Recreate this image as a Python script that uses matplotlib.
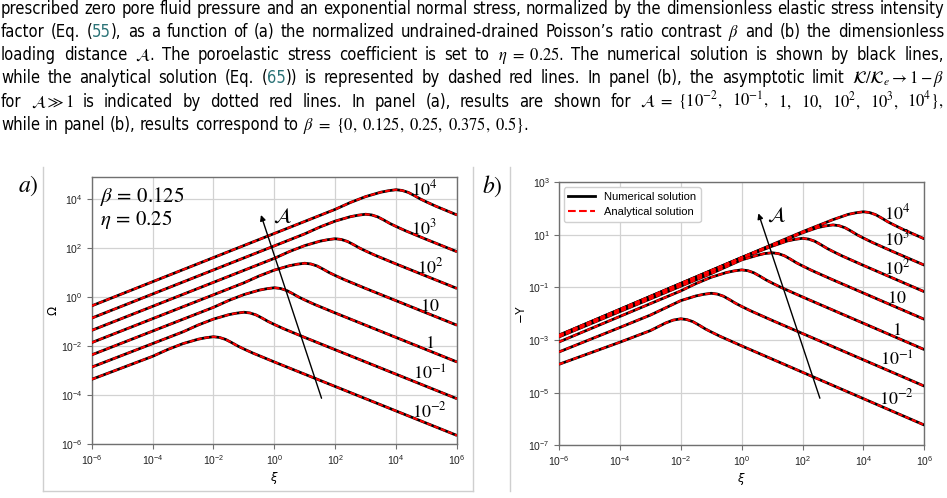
import numpy as np
import matplotlib
matplotlib.use('Agg')
import matplotlib.pyplot as plt
from matplotlib import font_manager
from matplotlib.lines import Line2D
from matplotlib.ticker import NullLocator

# ---------------------------------------------------------------- data
# curve labels (dimensionless loading distance A)
A_LABELS = [r'$10^{-2}$', r'$10^{-1}$', r'$1$', r'$10$', r'$10^{2}$', r'$10^{3}$', r'$10^{4}$']

# panel (a): log10(xi) and log10(Omega), one pair per A
a_xi_m2 = [-6, -4, -3.5, -3, -2.5, -2.25, -2, -1.8, -1.6, -1.4, -1.2, -1, -0.7, 0, 6]
a_om_m2 = [-3.35, -2.41, -2.13, -1.89, -1.71, -1.65, -1.61, -1.64, -1.72, -1.85, -1.99, -2.11, -2.28, -2.64, -5.64]
a_xi_m1 = [-6, -3, -2.5, -2, -1.5, -1.25, -1, -0.8, -0.6, -0.4, -0.2, 0, 0.3, 1, 6]
a_om_m1 = [-2.85, -1.41, -1.13, -0.89, -0.71, -0.65, -0.61, -0.64, -0.72, -0.85, -0.99, -1.11, -1.28, -1.64, -4.14]
a_xi_0 = [-6, -2, -1.5, -1, -0.5, -0.25, 0, 0.2, 0.4, 0.6, 0.8, 1, 1.3, 2, 6]
a_om_0 = [-2.35, -0.41, -0.13, 0.11, 0.29, 0.35, 0.39, 0.36, 0.28, 0.15, 0.01, -0.11, -0.28, -0.64, -2.64]
a_xi_1 = [-6, -1, -0.5, 0, 0.5, 0.75, 1, 1.2, 1.4, 1.6, 1.8, 2, 2.3, 3, 6]
a_om_1 = [-1.85, 0.59, 0.87, 1.11, 1.29, 1.35, 1.39, 1.36, 1.28, 1.15, 1.01, 0.89, 0.72, 0.36, -1.14]
a_xi_2 = [-6, 0, 0.5, 1, 1.5, 1.75, 2, 2.2, 2.4, 2.6, 2.8, 3, 3.3, 4, 6]
a_om_2 = [-1.35, 1.59, 1.87, 2.11, 2.29, 2.35, 2.39, 2.36, 2.28, 2.15, 2.01, 1.89, 1.72, 1.36, 0.36]
a_xi_3 = [-6, 1, 1.5, 2, 2.5, 2.75, 3, 3.2, 3.4, 3.6, 3.8, 4, 4.3, 5, 6]
a_om_3 = [-0.85, 2.59, 2.87, 3.11, 3.29, 3.35, 3.39, 3.36, 3.28, 3.15, 3.01, 2.89, 2.72, 2.36, 1.86]
a_xi_4 = [-6, 2, 2.5, 3, 3.5, 3.75, 4, 4.2, 4.4, 4.6, 4.8, 5, 5.3, 6]
a_om_4 = [-0.35, 3.59, 3.87, 4.11, 4.29, 4.35, 4.39, 4.36, 4.28, 4.15, 4.01, 3.89, 3.72, 3.36]

# panel (b): log10(xi) and log10(-Y), one pair per A
b_xi_m2 = [-6, -4, -3, -2.5, -2.25, -2, -1.8, -1.6, -1.4, -1.2, -1, -0.7, 0, 6]
b_y_m2 = [-3.92, -3.08, -2.64, -2.35, -2.24, -2.19, -2.22, -2.30, -2.43, -2.57, -2.69, -2.86, -3.22, -6.23]
b_xi_m1 = [-6, -4, -3, -2, -1.5, -1.25, -1, -0.8, -0.6, -0.4, -0.2, 0, 0.3, 1, 6]
b_y_m1 = [-3.45, -2.52, -2.05, -1.50, -1.32, -1.26, -1.22, -1.25, -1.33, -1.46, -1.60, -1.72, -1.89, -2.25, -4.75]
b_xi_0 = [-6, -4, -2, -1.5, -1, -0.5, -0.25, 0, 0.2, 0.4, 0.6, 0.8, 1, 1.3, 2, 6]
b_y_0 = [-3.07, -2.10, -1.13, -0.85, -0.61, -0.43, -0.37, -0.33, -0.36, -0.44, -0.57, -0.71, -0.83, -1.00, -1.36, -3.36]
b_xi_1 = [-6, -2, -1, 0, 0.5, 0.75, 1, 1.2, 1.4, 1.6, 1.8, 2, 2.3, 3, 6]
b_y_1 = [-2.88, -0.95, -0.47, 0.05, 0.22, 0.29, 0.32, 0.29, 0.21, 0.08, -0.06, -0.18, -0.35, -0.71, -2.21]
b_xi_2 = [-6, -2, 0, 1, 1.5, 1.75, 2, 2.2, 2.4, 2.6, 2.8, 3, 3.3, 4, 6]
b_y_2 = [-2.84, -0.90, 0.12, 0.57, 0.77, 0.83, 0.87, 0.84, 0.76, 0.63, 0.49, 0.37, 0.20, -0.16, -1.16]
b_xi_3 = [-6, 0, 2, 2.5, 2.75, 3, 3.2, 3.4, 3.6, 3.8, 4, 4.3, 5, 6]
b_y_3 = [-2.82, 0.14, 1.08, 1.28, 1.34, 1.38, 1.35, 1.27, 1.14, 1.00, 0.88, 0.71, 0.35, -0.15]
b_xi_4 = [-6, 0, 2, 3, 3.5, 3.75, 4, 4.2, 4.4, 4.6, 4.8, 5, 5.3, 6]
b_y_4 = [-2.81, 0.14, 1.12, 1.58, 1.78, 1.84, 1.88, 1.85, 1.77, 1.64, 1.50, 1.38, 1.21, 0.85]

XI_TICK_EXP = [-6, -4, -2, 0, 2, 4, 6]
A_YTICK_EXP = [-6, -4, -2, 0, 2, 4]
B_YTICK_EXP = [-7, -5, -3, -1, 1, 3]

CAPTION = [
    "prescribed zero pore fluid pressure and an exponential normal stress, normalized by the dimensionless elastic stress intensity".split(),
    ["factor", "(Eq.", [("(", 'k'), ("55", 'T'), ("),", 'k')], "as", "a", "function", "of", "(a)", "the", "normalized",
     "undrained-drained", "Poisson\u2019s", "ratio", "contrast", r"$\beta$", "and", "(b)", "the", "dimensionless"],
    ["loading", "distance", r"$\mathcal{A}$.", "The", "poroelastic", "stress", "coefficient", "is", "set", "to",
     r"$\eta\ =\ 0.25$.", "The", "numerical", "solution", "is", "shown", "by", "black", "lines,"],
    ["while", "the", "analytical", "solution", "(Eq.", [("(", 'k'), ("65", 'T'), ("))", 'k')], "is", "represented", "by",
     "dashed", "red", "lines.", "In", "panel", "(b),", "the", "asymptotic", "limit",
     r"$\mathcal{K}/\mathcal{K}_e \rightarrow 1 - \beta$"],
    ["for", r"$\mathcal{A} \gg 1$", "is", "indicated", "by", "dotted", "red", "lines.", "In", "panel", "(a),", "results",
     "are", "shown", "for", r"$\mathcal{A}\ =\ \{10^{-2},$", r"$10^{-1},$", r"$1,$", r"$10,$", r"$10^{2},$",
     r"$10^{3},$", r"$10^{4}\},$"],
    ["while", "in", "panel", "(b),", "results", "correspond", "to", r"$\beta\ =\ \{0,$", r"$0.125,$", r"$0.25,$",
     r"$0.375,$", r"$0.5\}$."],
]

# ---------------------------------------------------------------- figure
W, H = 947, 498
fig = plt.figure(figsize=(W / 100, H / 100), dpi=100)
renderer = fig.canvas.get_renderer()


def pick_font():
    cands = [('Liberation Sans Narrow', 'normal'), ('Noto Sans', 'condensed'), ('DejaVu Sans', 'condensed'),
             ('Open Sans', 'condensed')]
    for fam, st in cands:
        try:
            p = font_manager.findfont(font_manager.FontProperties(family=fam, stretch=st), fallback_to_default=False)
            if st == 'normal' or 'ondensed' in p or 'arrow' in p:
                return fam, st
        except Exception:
            pass
    return 'Liberation Sans', 'normal'


CAP_FONT, CAP_STRETCH = pick_font()
TEAL = '#2b7377'


def mk_text(x, y, s, fs, color='k'):
    return fig.text(x / W, 1 - y / H, s, fontsize=fs, family=CAP_FONT, stretch=CAP_STRETCH,
                    math_fontfamily='stix', color=color, va='baseline', ha='left')


_cache = {}


def width(s, fs):
    key = (s, fs)
    if key not in _cache:
        t = mk_text(0, 0, s, fs)
        _cache[key] = t.get_window_extent(renderer).width
        t.remove()
    return _cache[key]


def pieces(word):
    if isinstance(word, str):
        return [(word, 'k')]
    return word


def word_width(word, fs):
    return sum(width(s, fs) for s, _ in pieces(word))


X0, X1 = 1.0, 944.0
fs0 = 12.0
space0 = width('a a', fs0) - width('aa', fs0)
nat = [sum(word_width(w, fs0) for w in line) + space0 * (len(line) - 1) for line in CAPTION[:5]]
cap_fs = min(12.5, fs0 * min((X1 - X0) * 0.995 / n for n in nat))
space = width('a a', cap_fs) - width('aa', cap_fs)
baselines = [13.5, 36.8, 60.1, 83.4, 106.7, 130.0]
for li, line in enumerate(CAPTION):
    ws = [word_width(w, cap_fs) for w in line]
    if li < 5:
        gap = (X1 - X0 - sum(ws)) / (len(line) - 1)
    else:
        gap = space
    x = X0
    for w, ww in zip(line, ws):
        xx = x
        for s, c in pieces(w):
            mk_text(xx, baselines[li], s, cap_fs, TEAL if c == 'T' else 'k')
            xx += width(s, cap_fs)
        x += ww + gap

# panel frames (light gray image borders)
FRAME = '#cfcfcf'
for xs, ys in [([43, 43], [167, 491]), ([43, 473], [491, 491]), ([473, 473], [167, 491]),
               ([510, 510], [167, 491])]:
    fig.add_artist(Line2D([x / W for x in xs], [1 - y / H for y in ys], color=FRAME, lw=1.0))

SPINE = '#707070'
TICKFONT = 'Liberation Sans'


def style_axes(ax, yexp, ylim):
    ax.set_xscale('log')
    ax.set_yscale('log')
    ax.set_xlim(1e-6, 1e6)
    ax.set_ylim(*ylim)
    ax.set_xticks([10.0 ** e for e in XI_TICK_EXP])
    ax.set_xticklabels([r'$\mathregular{10^{%d}}$' % e for e in XI_TICK_EXP])
    ax.set_yticks([10.0 ** e for e in yexp])
    ax.set_yticklabels([r'$\mathregular{10^{%d}}$' % e for e in yexp])
    ax.xaxis.set_minor_locator(NullLocator())
    ax.yaxis.set_minor_locator(NullLocator())
    ax.tick_params(which='major', direction='out', length=3.5, width=0.8, color=SPINE,
                   labelsize=7.5, labelcolor='#222222', pad=3)
    for lab in ax.get_xticklabels() + ax.get_yticklabels():
        lab.set_family(TICKFONT)
    for sp in ax.spines.values():
        sp.set_color(SPINE)
        sp.set_linewidth(1.0)
    ax.grid(True, which='major', color='#d2d2d2', lw=0.9)
    ax.set_axisbelow(True)
    ax.set_xlabel(r'$\xi$', fontsize=8.5, family=TICKFONT, labelpad=2)


def draw_curves(ax, curves):
    for xs, vs in curves:
        x = 10.0 ** np.asarray(xs, float)
        v = 10.0 ** np.asarray(vs, float)
        ax.plot(x, v, color='black', lw=2.0, solid_capstyle='butt', zorder=3)
        ax.plot(x, v, color='red', lw=1.5, ls=(0, (2.4, 1.2)), zorder=4)


LABEL_KW = dict(fontsize=13, math_fontfamily='stix', ha='center', va='center', zorder=5)

# ---------------- panel (a)
axA = fig.add_axes([91.7 / W, 1 - 444.3 / H, (457 - 91.7) / W, (444.3 - 176.5) / H])
style_axes(axA, A_YTICK_EXP, (1e-6, 10 ** 4.93))
draw_curves(axA, [(a_xi_m2, a_om_m2), (a_xi_m1, a_om_m1), (a_xi_0, a_om_0), (a_xi_1, a_om_1),
                  (a_xi_2, a_om_2), (a_xi_3, a_om_3), (a_xi_4, a_om_4)])
axA.set_ylabel(r'$\Omega$', fontsize=8.5, family=TICKFONT, labelpad=1)
a_lab_pos = [(0.926, 0.121), (0.926, 0.263), (0.926, 0.378), (0.926, 0.517), (0.926, 0.662),
             (0.910, 0.808), (0.910, 0.950)]
for lab, (px, py) in zip(A_LABELS, a_lab_pos):
    axA.text(px, py, lab, transform=axA.transAxes, **LABEL_KW)
axA.text(0.023, 0.927, r'$\beta\, =\, 0.125$', transform=axA.transAxes, fontsize=15,
         math_fontfamily='stix', ha='left', va='center')
axA.text(0.023, 0.838, r'$\eta\, =\, 0.25$', transform=axA.transAxes, fontsize=15,
         math_fontfamily='stix', ha='left', va='center')
axA.annotate('', xy=(10 ** -0.44, 10 ** 3.36), xytext=(10 ** 1.55, 10 ** -4.12),
             arrowprops=dict(arrowstyle='-|>', color='k', lw=1.0, mutation_scale=8, shrinkA=0, shrinkB=0),
             zorder=6)
axA.text(10 ** 0.28, 10 ** 3.32, r'$\mathcal{A}$', fontsize=15, math_fontfamily='stix',
         ha='center', va='center')

# ---------------- panel (b)
axB = fig.add_axes([559 / W, 1 - 445.3 / H, (924.3 - 559) / W, 263 / H])
style_axes(axB, B_YTICK_EXP, (1e-7, 1e3))
draw_curves(axB, [(b_xi_m2, b_y_m2), (b_xi_m1, b_y_m1), (b_xi_0, b_y_0), (b_xi_1, b_y_1),
                  (b_xi_2, b_y_2), (b_xi_3, b_y_3), (b_xi_4, b_y_4)])
axB.set_ylabel(r'$-\mathregular{Y}$', fontsize=8.5, family=TICKFONT, labelpad=0)
b_lab_pos = [(0.925, 0.180), (0.925, 0.324), (0.925, 0.438), (0.925, 0.560), (0.925, 0.674),
             (0.925, 0.781), (0.925, 0.883)]
for lab, (px, py) in zip(A_LABELS, b_lab_pos):
    axB.text(px, py, lab, transform=axB.transAxes, **LABEL_KW)
axB.annotate('', xy=(10 ** 0.55, 10 ** 1.82), xytext=(10 ** 2.57, 10 ** -5.21),
             arrowprops=dict(arrowstyle='-|>', color='k', lw=1.0, mutation_scale=8, shrinkA=0, shrinkB=0),
             zorder=6)
axB.text(10 ** 1.13, 10 ** 1.78, r'$\mathcal{A}$', fontsize=15, math_fontfamily='stix',
         ha='center', va='center')
handles = [Line2D([], [], color='black', lw=2.0), Line2D([], [], color='red', lw=1.5, ls='--')]
leg = axB.legend(handles, ['Numerical solution', 'Analytical solution'], loc='upper left',
                 prop={'family': TICKFONT, 'size': 8}, frameon=True, framealpha=1.0,
                 edgecolor='#d0d0d0', borderaxespad=0.45, handlelength=2.4)

# panel tags
fig.text(28 / W, 1 - 186 / H, r'$a)$', fontsize=17, math_fontfamily='stix', ha='center', va='center')
fig.text(492 / W, 1 - 186 / H, r'$b)$', fontsize=17, math_fontfamily='stix', ha='center', va='center')

fig.savefig('out.png', dpi=100)
